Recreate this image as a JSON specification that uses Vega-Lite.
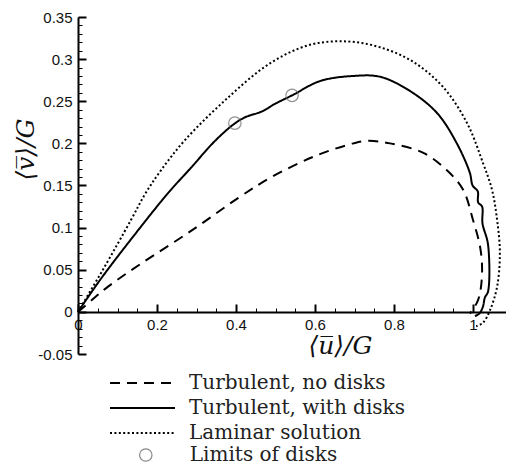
{
  "$schema": "https://vega.github.io/schema/vega-lite/v6.json",
  "autosize": "none",
  "width": 428,
  "height": 337,
  "padding": {"left": 78, "top": 17, "right": 0, "bottom": 114},
  "background": "white",
  "config": {"view": {"stroke": null}},
  "datasets": {
    "curves": [
      {"series": "Turbulent, no disks", "i": 0, "u": 0, "v": 0},
      {"series": "Turbulent, no disks", "i": 1, "u": 0.035, "v": 0.014},
      {"series": "Turbulent, no disks", "i": 2, "u": 0.076, "v": 0.030},
      {"series": "Turbulent, no disks", "i": 3, "u": 0.162, "v": 0.058},
      {"series": "Turbulent, no disks", "i": 4, "u": 0.289, "v": 0.097},
      {"series": "Turbulent, no disks", "i": 5, "u": 0.405, "v": 0.135},
      {"series": "Turbulent, no disks", "i": 6, "u": 0.486, "v": 0.159},
      {"series": "Turbulent, no disks", "i": 7, "u": 0.595, "v": 0.184},
      {"series": "Turbulent, no disks", "i": 8, "u": 0.689, "v": 0.199},
      {"series": "Turbulent, no disks", "i": 9, "u": 0.732, "v": 0.203},
      {"series": "Turbulent, no disks", "i": 10, "u": 0.790, "v": 0.200},
      {"series": "Turbulent, no disks", "i": 11, "u": 0.873, "v": 0.189},
      {"series": "Turbulent, no disks", "i": 12, "u": 0.934, "v": 0.168},
      {"series": "Turbulent, no disks", "i": 13, "u": 0.975, "v": 0.145},
      {"series": "Turbulent, no disks", "i": 14, "u": 1.000, "v": 0.109},
      {"series": "Turbulent, no disks", "i": 15, "u": 1.018, "v": 0.077},
      {"series": "Turbulent, no disks", "i": 16, "u": 1.023, "v": 0.050},
      {"series": "Turbulent, no disks", "i": 17, "u": 1.018, "v": 0.023},
      {"series": "Turbulent, no disks", "i": 18, "u": 1.010, "v": 0.011},
      {"series": "Turbulent, no disks", "i": 19, "u": 0.992, "v": -0.002},

      {"series": "Turbulent, with disks", "i": 0, "u": 0, "v": 0},
      {"series": "Turbulent, with disks", "i": 1, "u": 0.056, "v": 0.038},
      {"series": "Turbulent, with disks", "i": 2, "u": 0.139, "v": 0.089},
      {"series": "Turbulent, with disks", "i": 3, "u": 0.228, "v": 0.141},
      {"series": "Turbulent, with disks", "i": 4, "u": 0.284, "v": 0.170},
      {"series": "Turbulent, with disks", "i": 5, "u": 0.347, "v": 0.203},
      {"series": "Turbulent, with disks", "i": 6, "u": 0.395, "v": 0.223},
      {"series": "Turbulent, with disks", "i": 7, "u": 0.423, "v": 0.231},
      {"series": "Turbulent, with disks", "i": 8, "u": 0.466, "v": 0.238},
      {"series": "Turbulent, with disks", "i": 9, "u": 0.499, "v": 0.247},
      {"series": "Turbulent, with disks", "i": 10, "u": 0.542, "v": 0.257},
      {"series": "Turbulent, with disks", "i": 11, "u": 0.613, "v": 0.274},
      {"series": "Turbulent, with disks", "i": 12, "u": 0.696, "v": 0.280},
      {"series": "Turbulent, with disks", "i": 13, "u": 0.765, "v": 0.279},
      {"series": "Turbulent, with disks", "i": 14, "u": 0.841, "v": 0.262},
      {"series": "Turbulent, with disks", "i": 15, "u": 0.909, "v": 0.236},
      {"series": "Turbulent, with disks", "i": 16, "u": 0.959, "v": 0.200},
      {"series": "Turbulent, with disks", "i": 17, "u": 0.992, "v": 0.165},
      {"series": "Turbulent, with disks", "i": 18, "u": 0.999, "v": 0.150},
      {"series": "Turbulent, with disks", "i": 19, "u": 1.012, "v": 0.143},
      {"series": "Turbulent, with disks", "i": 20, "u": 1.013, "v": 0.130},
      {"series": "Turbulent, with disks", "i": 21, "u": 1.023, "v": 0.125},
      {"series": "Turbulent, with disks", "i": 22, "u": 1.024, "v": 0.105},
      {"series": "Turbulent, with disks", "i": 23, "u": 1.038, "v": 0.080},
      {"series": "Turbulent, with disks", "i": 24, "u": 1.038, "v": 0.024},
      {"series": "Turbulent, with disks", "i": 25, "u": 1.030, "v": 0.017},
      {"series": "Turbulent, with disks", "i": 26, "u": 1.025, "v": 0.006},
      {"series": "Turbulent, with disks", "i": 27, "u": 1.016, "v": -0.002},
      {"series": "Turbulent, with disks", "i": 28, "u": 1.005, "v": -0.005},

      {"series": "Laminar solution", "i": 0, "u": 0, "v": 0},
      {"series": "Laminar solution", "i": 1, "u": 0.063, "v": 0.050},
      {"series": "Laminar solution", "i": 2, "u": 0.134, "v": 0.109},
      {"series": "Laminar solution", "i": 3, "u": 0.170, "v": 0.140},
      {"series": "Laminar solution", "i": 4, "u": 0.210, "v": 0.168},
      {"series": "Laminar solution", "i": 5, "u": 0.271, "v": 0.204},
      {"series": "Laminar solution", "i": 6, "u": 0.372, "v": 0.251},
      {"series": "Laminar solution", "i": 7, "u": 0.486, "v": 0.295},
      {"series": "Laminar solution", "i": 8, "u": 0.587, "v": 0.317},
      {"series": "Laminar solution", "i": 9, "u": 0.681, "v": 0.321},
      {"series": "Laminar solution", "i": 10, "u": 0.765, "v": 0.314},
      {"series": "Laminar solution", "i": 11, "u": 0.848, "v": 0.297},
      {"series": "Laminar solution", "i": 12, "u": 0.924, "v": 0.267},
      {"series": "Laminar solution", "i": 13, "u": 0.985, "v": 0.224},
      {"series": "Laminar solution", "i": 14, "u": 1.025, "v": 0.177},
      {"series": "Laminar solution", "i": 15, "u": 1.048, "v": 0.145},
      {"series": "Laminar solution", "i": 16, "u": 1.061, "v": 0.109},
      {"series": "Laminar solution", "i": 17, "u": 1.068, "v": 0.070},
      {"series": "Laminar solution", "i": 18, "u": 1.061, "v": 0.030},
      {"series": "Laminar solution", "i": 19, "u": 1.043, "v": 0.002},
      {"series": "Laminar solution", "i": 20, "u": 1.025, "v": -0.013},
      {"series": "Laminar solution", "i": 21, "u": 1.008, "v": -0.017}
    ],
    "disks": [
      {"marker": "Limits of disks", "u": 0.397, "v": 0.224},
      {"marker": "Limits of disks", "u": 0.542, "v": 0.257}
    ]
  },
  "layer": [
    {
      "data": {"name": "curves"},
      "mark": {"type": "line", "color": "black", "strokeWidth": 2, "interpolate": "catmull-rom"},
      "encoding": {
        "x": {
          "field": "u", "type": "quantitative",
          "scale": {"domain": [0, 1.0835], "nice": false, "zero": false},
          "axis": {
            "orient": "bottom", "offset": -42,
            "values": [0, 0.2, 0.4, 0.6, 0.8, 1],
            "labelExpr": "'' + datum.value",
            "tickSize": -8, "tickWidth": 2, "tickColor": "black",
            "domainWidth": 2, "domainColor": "black",
            "labelPadding": 13, "labelFont": "Liberation Sans", "labelFontSize": 15, "labelColor": "#111",
            "labelFlush": false, "labelOverlap": false, "grid": false,
            "title": "⟨u̅⟩/G",
            "titleFont": "DejaVu Serif", "titleFontStyle": "italic", "titleFontWeight": "normal",
            "titleFontSize": 25, "titleColor": "#111",
            "titleX": 262, "titleY": 33, "titleAlign": "center", "titleBaseline": "middle", "titleAngle": 0
          }
        },
        "y": {
          "field": "v", "type": "quantitative",
          "scale": {"domain": [-0.05, 0.35], "nice": false, "zero": false},
          "axis": {
            "orient": "left",
            "values": [-0.05, 0, 0.05, 0.1, 0.15, 0.2, 0.25, 0.3, 0.35],
            "labelExpr": "'' + datum.value",
            "tickSize": -8, "tickWidth": 2, "tickColor": "black",
            "domainWidth": 2, "domainColor": "black",
            "labelPadding": 14, "labelFont": "Liberation Sans", "labelFontSize": 15, "labelColor": "#111",
            "labelFlush": false, "labelOverlap": false, "grid": false,
            "title": "⟨v̅⟩/G",
            "titleFont": "DejaVu Serif", "titleFontStyle": "italic", "titleFontWeight": "normal",
            "titleFontSize": 25, "titleColor": "#111",
            "titleX": -53, "titleY": 132, "titleAlign": "center", "titleBaseline": "middle", "titleAngle": 270
          }
        },
        "order": {"field": "i", "type": "quantitative"},
        "strokeDash": {
          "field": "series", "type": "nominal",
          "scale": {
            "domain": ["Turbulent, no disks", "Turbulent, with disks", "Laminar solution"],
            "range": [[10, 7], [1, 0], [2, 2.4]]
          },
          "legend": {
            "title": null, "orient": "none", "legendX": 53.5, "legendY": 355,
            "symbolType": "M-3.25,0H3.25", "symbolSize": 400, "symbolStrokeWidth": 2,
            "symbolStrokeColor": "black", "symbolFillColor": "transparent",
            "labelFont": "DejaVu Serif", "labelFontSize": 20, "labelColor": "#222", "labelOffset": 35.5,
            "rowPadding": 4, "padding": 0, "labelLimit": 400
          }
        }
      }
    },
    {
      "data": {"name": "disks"},
      "mark": {"type": "point", "filled": false, "stroke": "#666", "strokeWidth": 1.2, "size": 154},
      "encoding": {
        "x": {
          "field": "u", "type": "quantitative",
          "axis": {
            "orient": "bottom", "offset": -42,
            "values": [0.05, 0.1, 0.15, 0.25, 0.3, 0.35, 0.45, 0.5, 0.55, 0.65, 0.7, 0.75, 0.85, 0.9, 0.95],
            "tickSize": -4, "tickWidth": 1, "tickColor": "black",
            "labels": false, "domain": false, "grid": false, "title": null
          }
        },
        "y": {
          "field": "v", "type": "quantitative",
          "axis": {
            "orient": "left",
            "values": [-0.04, -0.03, -0.02, -0.01, 0.01, 0.02, 0.03, 0.04, 0.06, 0.07, 0.08, 0.09, 0.11, 0.12, 0.13, 0.14, 0.16, 0.17, 0.18, 0.19, 0.21, 0.22, 0.23, 0.24, 0.26, 0.27, 0.28, 0.29, 0.31, 0.32, 0.33, 0.34],
            "tickSize": -4, "tickWidth": 1, "tickColor": "black",
            "labels": false, "domain": false, "grid": false, "title": null
          }
        },
        "shape": {
          "field": "marker", "type": "nominal",
          "scale": {"domain": ["Limits of disks"], "range": ["circle"]},
          "legend": {
            "title": null, "orient": "none", "legendX": 57.8, "legendY": 428,
            "symbolSize": 154, "symbolStrokeColor": "#555", "symbolStrokeWidth": 1.2, "symbolFillColor": "transparent",
            "labelFont": "DejaVu Serif", "labelFontSize": 20, "labelColor": "#222", "labelOffset": 34,
            "padding": 0, "labelLimit": 400
          }
        }
      }
    }
  ],
  "resolve": {"axis": {"x": "independent", "y": "independent"}}
}
